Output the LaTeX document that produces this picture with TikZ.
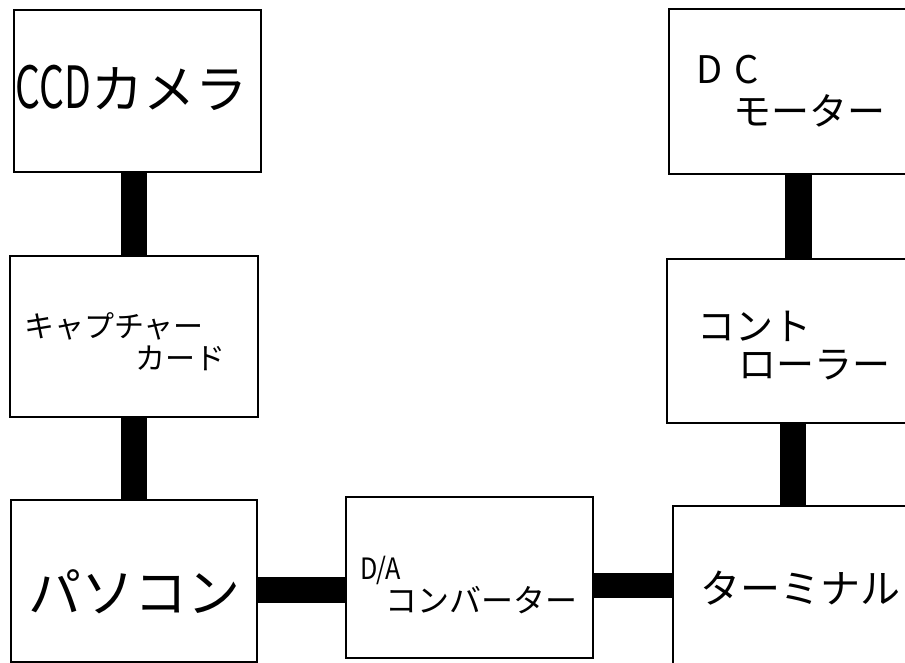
\documentclass[tikz,border=0pt]{standalone}
\usepackage{fontspec}
\usepackage{graphicx}
\newfontfamily\jp{Noto Sans CJK JP}
\begin{document}
\begin{tikzpicture}[x=1pt,y=-1pt,
  box/.style={draw,line width=2pt,rectangle,anchor=north west,inner sep=0pt,outer sep=0pt},
  bar/.style={line width=26pt},
  lbl/.style={anchor=west,inner sep=0pt,outer sep=0pt}]
\clip (0,0) rectangle (905,663);
\fill[white] (0,0) rectangle (905,663);
% boxes
\node[box,minimum width=247pt,minimum height=162pt] (ccd)  at (14,10) {};
\node[box,minimum width=248pt,minimum height=161pt] (cap)  at (10,256) {};
\node[box,minimum width=246pt,minimum height=162pt] (pc)   at (11,500) {};
\node[box,minimum width=247pt,minimum height=161pt] (da)   at (346,497) {};
\node[box,minimum width=260pt,minimum height=200pt] (term) at (673,506) {};
\node[box,minimum width=260pt,minimum height=165pt] (dc)   at (669,9) {};
\node[box,minimum width=260pt,minimum height=164pt] (ctrl) at (667,259) {};
% connector axes
\coordinate (c1) at (134,0);
\coordinate (c2) at (798.5,0);
\coordinate (c3) at (792.5,0);
\coordinate (r1) at (0,590);
\coordinate (r2) at (0,585.5);
% connectors
\draw[bar] (ccd.south -| c1) -- (cap.north -| c1);
\draw[bar] (cap.south -| c1) -- (pc.north -| c1);
\draw[bar] (pc.east |- r1) -- (da.west |- r1);
\draw[bar,line width=25pt] (da.east |- r2) -- (term.west |- r2);
\draw[bar,line width=27pt] (dc.south -| c2) -- (ctrl.north -| c2);
\draw[bar] (ctrl.south -| c3) -- (term.north -| c3);
% labels
\node[lbl,font=\jp\fontsize{52}{52}\selectfont] (tccd) at (16,88) {\scalebox{0.75}[1.12]{CCD}カメラ};
\node[lbl,font=\jp\fontsize{30}{30}\selectfont] (tcap1) at (24,326) {キャプチャー};
\node[lbl,font=\jp\fontsize{30}{30}\selectfont] (tcap2) at (135,358) {カード};
\node[lbl,font=\jp\fontsize{38}{38}\selectfont] (tdc1) at (696,70) {D\hspace{12pt}C};
\node[lbl,font=\jp\fontsize{38}{38}\selectfont] (tdc2) at (733,111) {モーター};
\node[lbl,font=\jp\fontsize{38}{38}\selectfont] (tct1) at (697,326) {コント};
\node[lbl,font=\jp\fontsize{38}{38}\selectfont] (tct2) at (738,365) {ローラー};
\node[lbl,font=\jp\fontsize{53}{53}\selectfont] (tpc) at (28,592) {パソコン};
\node[lbl,font=\jp\fontsize{28}{28}\selectfont] (tda1) at (360,570) {\scalebox{0.9}[1.05]{D/A}};
\node[lbl,font=\jp\fontsize{32}{32}\selectfont] (tda2) at (385,600) {コンバーター};
\node[lbl,font=\jp\fontsize{40}{40}\selectfont] (tterm) at (700,588) {ターミナル};
\end{tikzpicture}
\end{document}
